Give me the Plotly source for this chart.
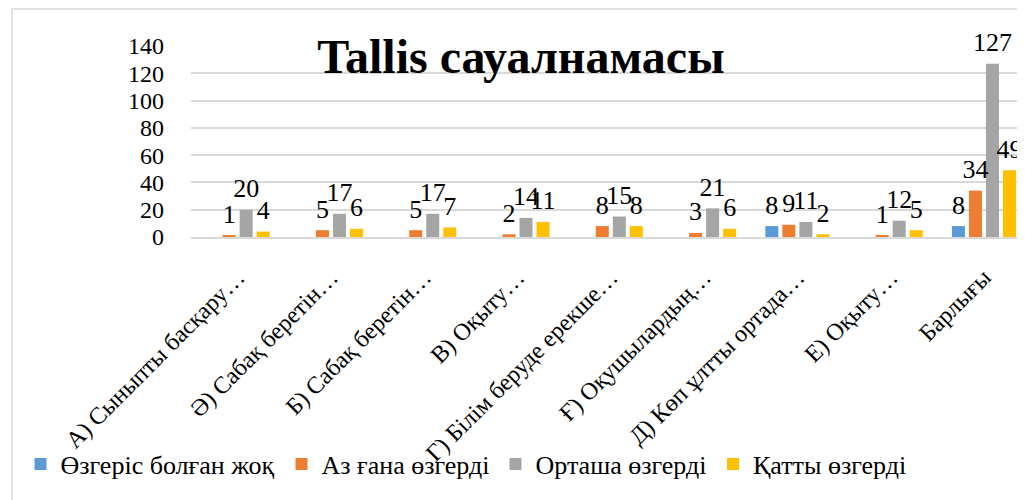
import plotly.graph_objects as go

categories = [
    "А) Сыныпты басқару…",
    "Ә) Сабақ беретін…",
    "Б) Сабақ беретін…",
    "В) Оқыту…",
    "Г) Білім беруде ерекше…",
    "Ғ) Оқушылардың…",
    "Д) Көп ұлтты ортада…",
    "Е) Оқыту…",
    "Барлығы",
]
no_change = [0, 0, 0, 0, 0, 0, 8, 0, 8]
little_change = [1, 5, 5, 2, 8, 3, 9, 1, 34]
medium_change = [20, 17, 17, 14, 15, 21, 11, 12, 127]
strong_change = [4, 6, 7, 11, 8, 6, 2, 5, 49]

series_names = ["Өзгеріс болған жоқ", "Аз ғана өзгерді", "Орташа өзгерді", "Қатты өзгерді"]
series_values = [no_change, little_change, medium_change, strong_change]
series_colors = ["#5B9BD5", "#ED7D31", "#A5A5A5", "#FFC000"]
y_ticks = [0, 20, 40, 60, 80, 100, 120, 140]

FONT = "Liberation Serif, Times New Roman, serif"
BARGAP = 0.27
W, H = 1025, 500
# the page body adds an 8px margin; lay out in page pixels and compensate
PAGE_OFF = 8
legend_ids = ["legend", "legend2", "legend3", "legend4"]
legend_px = [20.5, 281.5, 495.5, 713]   # page x of each legend item
legend_py = 464                          # page y of legend row centre

fig = go.Figure()
for name, vals, col, lid in zip(series_names, series_values, series_colors, legend_ids):
    fig.add_trace(go.Bar(
        name=name,
        x=categories,
        y=vals,
        marker=dict(color=col, line=dict(width=0)),
        hoverinfo="skip",
        legend=lid,
    ))
# data labels, grouped to sit over their bars
for name, vals in zip(series_names, series_values):
    fig.add_trace(go.Scatter(
        name=name,
        x=categories,
        y=vals,
        mode="markers+text",
        marker=dict(size=8, color="rgba(0,0,0,0)"),
        text=[str(v) if v else "" for v in vals],
        textposition="top center",
        textfont=dict(family=FONT, size=26, color="black"),
        cliponaxis=False,
        showlegend=False,
        hoverinfo="skip",
    ))

legend_common = dict(
    orientation="h", xref="container", xanchor="left",
    yref="container", yanchor="middle",
    font=dict(family=FONT, size=26, color="black"),
    bgcolor="rgba(0,0,0,0)",
)
legends = {}
for lid, px in zip(legend_ids, legend_px):
    legends[lid] = dict(legend_common,
                        x=(px - PAGE_OFF) / W,
                        y=1 - (legend_py - PAGE_OFF) / H)

fig.update_layout(
    width=W, height=H,
    margin=dict(l=191 - PAGE_OFF, r=PAGE_OFF, t=46 - PAGE_OFF,
                b=H - (237 - PAGE_OFF), autoexpand=False),
    paper_bgcolor="white", plot_bgcolor="white",
    barmode="group", bargap=BARGAP, bargroupgap=0.235,
    scattermode="group", scattergap=BARGAP,
    font=dict(family=FONT, size=24, color="black"),
    title=dict(
        text="<b>Tallis сауалнамасы</b>",
        font=dict(family=FONT, size=48, color="black"),
        x=0.5005, xref="container", xanchor="center",
        y=0.904, yref="container", yanchor="middle",
    ),
    showlegend=True,
    shapes=[dict(
        type="rect", xref="paper", yref="paper",
        x0=-0.2146, x1=1.03, y0=-1.5, y1=1.1937,
        line=dict(color="#D9D9D9", width=1.5),
        fillcolor="rgba(0,0,0,0)", layer="below",
    )],
    **legends,
)
fig.update_xaxes(
    type="category",
    range=[-0.5, 8.44],
    tickangle=-45,
    tickfont=dict(family=FONT, size=24, color="black"),
    showline=True, linecolor="#D9D9D9", linewidth=1.5,
    ticks="", showgrid=False, automargin=False,
    ticklabelstandoff=15,
)
fig.update_yaxes(
    range=[0, 140],
    tickvals=y_ticks,
    tickfont=dict(family=FONT, size=24, color="black"),
    showgrid=True, gridcolor="#D9D9D9", gridwidth=1.5,
    zeroline=False, showline=False, ticks="", automargin=False,
    ticklabelstandoff=26,
)

fig.write_html("out.html")
